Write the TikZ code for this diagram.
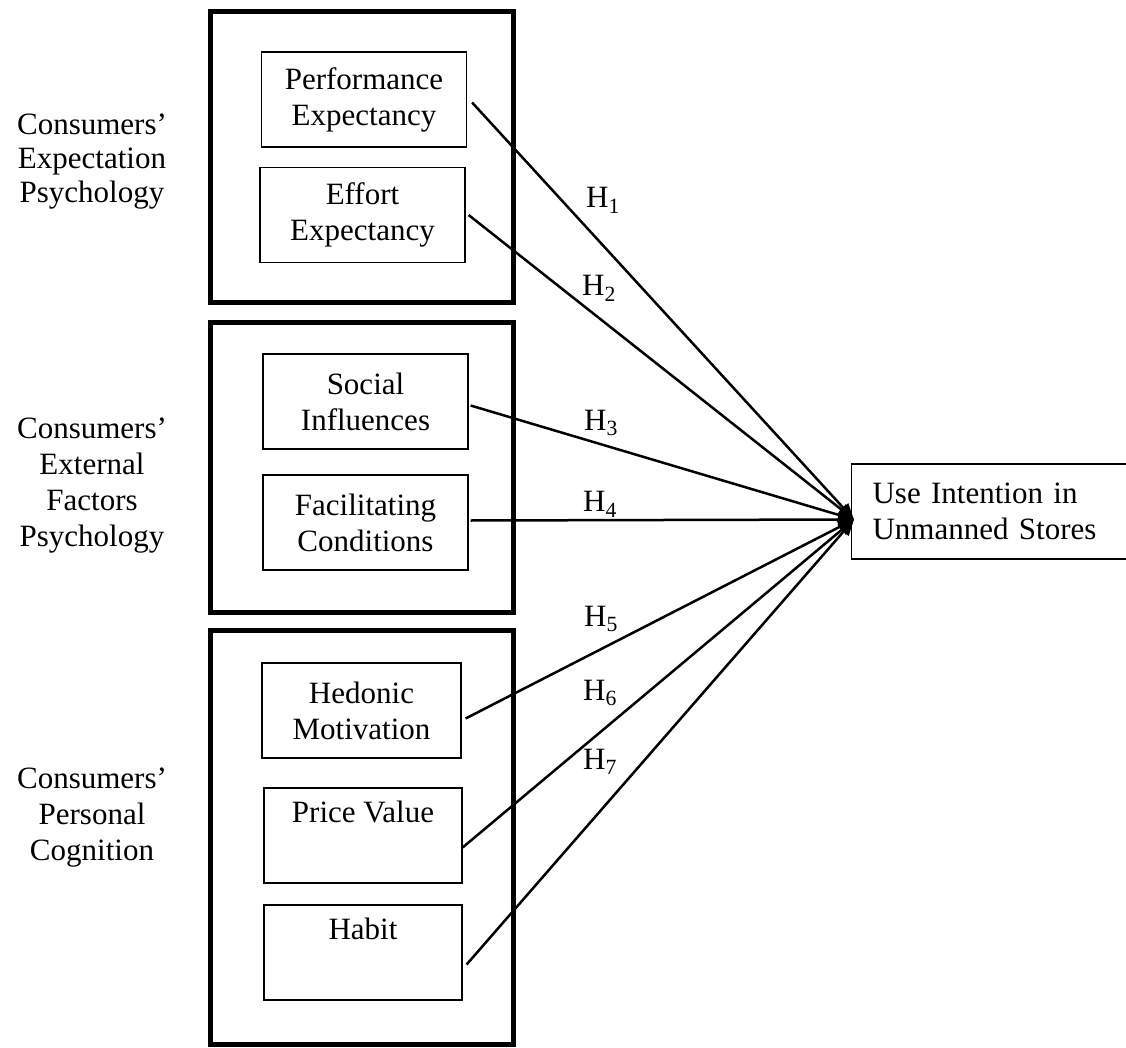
\documentclass[tikz,border=0pt]{standalone}
\usepackage{fontspec}
\setmainfont{Liberation Serif}
\usetikzlibrary{arrows.meta}
\begin{document}
\begin{tikzpicture}[x=1pt,y=-1pt,font=\fontsize{31}{36}\selectfont,
factor/.style={draw,line width=1.2pt,minimum width=205pt,minimum height=95pt,inner sep=0pt,align=center},
hypo/.style={line width=2.5pt,-{Triangle[length=16pt,width=13pt]}}]
\useasboundingbox (0,0) rectangle (1126,1048);

\draw[line width=5pt]
(210,12) rectangle (513,303)
(210,322) rectangle (513,612)
(210,630) rectangle (513,1044);

\node[align=center,font=\fontsize{31}{34}\selectfont] (expect) at (92,162) {Consumers’\\Expectation\\Psychology};
\node[align=center,font=\fontsize{31}{36}\selectfont] (extern) at (92,486) {Consumers’\\External\\Factors\\Psychology};
\node[align=center,font=\fontsize{31}{36}\selectfont] (cognit) at (92,818) {Consumers’\\Personal\\Cognition};

\node[factor] (perf) at (364,99.5) {Performance\\Expectancy};
\node[factor] (effort) at (362.5,215) {Effort\\Expectancy};
\node[factor] (social) at (365.5,401.5) {Social\\Influences};
\node[factor] (facil) at (365.5,522.5) {Facilitating\\Conditions};
\node[factor,minimum width=199pt] (hedon) at (361.5,710.5) {Hedonic\\Motivation};
\node[factor,minimum width=198pt] (price) at (363,835.5) {Price Value\\\strut};
\node[factor,minimum width=198pt] (habit) at (363,952.5) {Habit\\\strut};

\node[draw,line width=1.2pt,anchor=west,minimum height=95pt,text width=260pt,inner xsep=21pt,align=left] (intent) at (851,511.5) {Use Intention in\\Unmanned Stores};
\coordinate (tip) at ([shift={(3,8)}]intent.west);

\draw[hypo] ([shift={(5,3)}]perf.east) -- (tip);
\draw[hypo] ([shift={(3,0)}]effort.east) -- (tip);
\draw[hypo] ([shift={(2,4)}]social.east) -- (tip);
\draw[hypo] ([shift={(2,-2)}]facil.east) -- (tip);
\draw[hypo] ([shift={(4,8)}]hedon.east) -- (tip);
\draw[hypo] ([shift={(0,12)}]price.east) -- (tip);
\draw[hypo] ([shift={(4,12)}]habit.east) -- (tip);

\node (h1) at (603,200) {H\textsubscript{1}};
\node (h2) at (599,288) {H\textsubscript{2}};
\node (h3) at (601,423) {H\textsubscript{3}};
\node (h4) at (600,504) {H\textsubscript{4}};
\node (h5) at (601,619) {H\textsubscript{5}};
\node (h6) at (600,693) {H\textsubscript{6}};
\node (h7) at (600,762) {H\textsubscript{7}};
\end{tikzpicture}
\end{document}
